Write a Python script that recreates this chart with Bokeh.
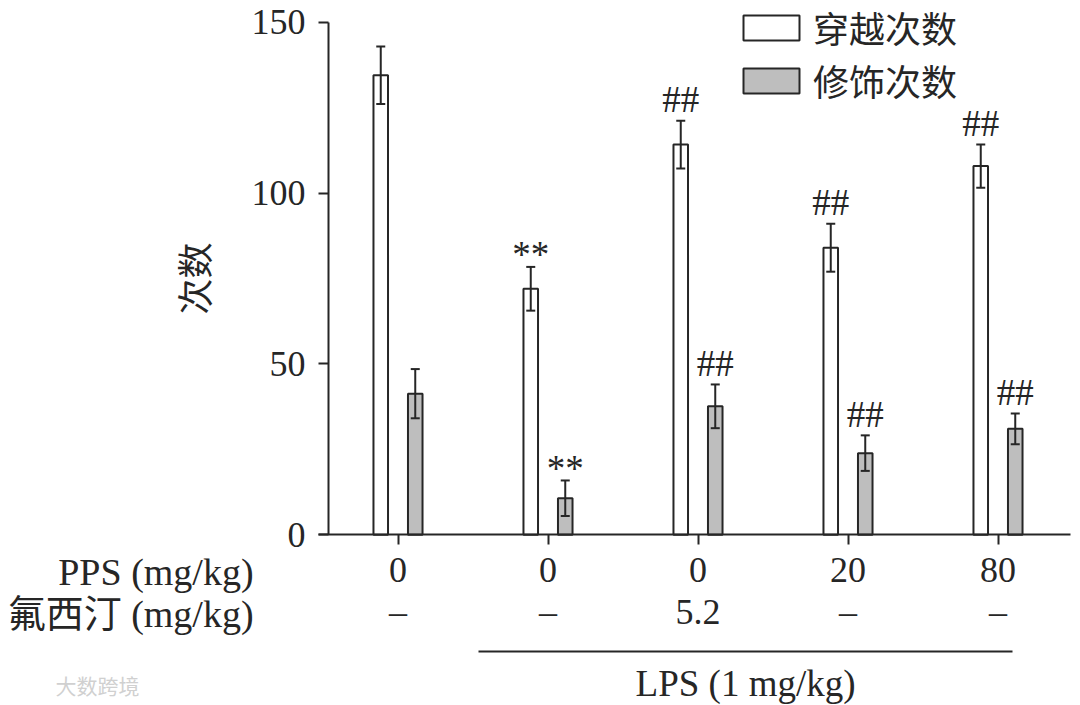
import math
from bokeh.plotting import figure
from bokeh.models import (Range1d, LinearAxis, FixedTicker, Whisker, ColumnDataSource,
                          Legend, LegendItem, Label, TeeHead)
from bokeh.core.properties import value
from bokeh.embed import file_html
from bokeh.resources import INLINE

# ---------------- data ----------------
pps_labels = ["0", "0", "0", "20", "80"]
fluox_labels = ["\u2013", "\u2013", "5.2", "\u2013", "\u2013"]
series_names = ["穿越次数", "修饰次数"]
cross = [134.5, 72.0, 114.2, 84.0, 107.9]
cross_err = [8.4, 6.4, 7.0, 7.0, 6.3]
groom = [41.3, 10.7, 37.6, 23.9, 31.0]
groom_err = [7.2, 5.2, 6.4, 5.2, 4.5]
cross_sig = ["", "**", "##", "##", "##"]
groom_sig = ["", "**", "##", "##", "##"]
yticks = [0, 50, 100, 150]

SERIF = "Liberation Serif"
CJK = "Noto Sans CJK SC"
MIX = "Liberation Serif, Noto Sans CJK SC"
INK = "#262626"
GREY = "#bebebe"

idx = list(range(len(pps_labels)))
off = 0.115
bw = 0.097

p = figure(width=1080, height=705, output_backend="svg", toolbar_location=None,
           x_range=Range1d(-2.65, 4.55), y_range=Range1d(-49.96, 156.37),
           min_border=0)
p.outline_line_color = None
p.xgrid.visible = False
p.ygrid.visible = False
p.background_fill_color = "white"

cx = [i - off for i in idx]
gx = [i + off for i in idx]
src_c = ColumnDataSource(dict(x=cx, top=cross, up=[v + e for v, e in zip(cross, cross_err)],
                              lo=[v - e for v, e in zip(cross, cross_err)]))
src_g = ColumnDataSource(dict(x=gx, top=groom, up=[v + e for v, e in zip(groom, groom_err)],
                              lo=[v - e for v, e in zip(groom, groom_err)]))

r1 = p.vbar(x="x", top="top", width=bw, source=src_c, fill_color="white",
            line_color=INK, line_width=2)
r2 = p.vbar(x="x", top="top", width=bw, source=src_g, fill_color=GREY,
            line_color=INK, line_width=2)

for s in (src_c, src_g):
    w = Whisker(source=s, base="x", upper="up", lower="lo", line_color=INK, line_width=2,
                upper_head=TeeHead(size=9, line_color=INK, line_width=2),
                lower_head=TeeHead(size=9, line_color=INK, line_width=2),
                level="overlay")
    p.add_layout(w)

# significance marks
for xs, ups, sigs in ((cx, src_c.data["up"], cross_sig), (gx, src_g.data["up"], groom_sig)):
    hx = [x for x, s in zip(xs, sigs) if s == "##"]
    hy = [u for u, s in zip(ups, sigs) if s == "##"]
    ax = [x for x, s in zip(xs, sigs) if s == "**"]
    ay = [u for u, s in zip(ups, sigs) if s == "**"]
    p.text(x=hx, y=hy, text=["##"] * len(hx), text_align="center", text_baseline="middle",
           y_offset=-21, text_font=value(SERIF), text_font_size="37px", text_color=INK)
    p.text(x=ax, y=ay, text=["**"] * len(ax), text_align="center", text_baseline="middle",
           y_offset=-12, text_font=value(SERIF), text_font_size="37px", text_color=INK)

# y axis
ya = p.yaxis[0]
ya.fixed_location = -0.4633
ya.ticker = FixedTicker(ticks=yticks)
ya.bounds = (0, 150)
ya.axis_line_width = 2
ya.axis_line_color = INK
ya.major_tick_line_width = 2
ya.major_tick_line_color = INK
ya.major_tick_out = 10
ya.major_tick_in = 0
ya.minor_tick_line_color = None
ya.major_label_text_font = SERIF
ya.major_label_text_font_size = "36px"
ya.major_label_text_color = INK
ya.major_label_standoff = 13
ya.axis_label = "次数"
ya.axis_label_text_font = CJK
ya.axis_label_text_font_size = "36px"
ya.axis_label_text_font_style = "normal"
ya.axis_label_text_color = INK
ya.axis_label_standoff = 30

# x axis (PPS row)
xa = p.xaxis[0]
xa.fixed_location = 0
xa.ticker = FixedTicker(ticks=idx)
xa.major_label_overrides = {i: t for i, t in zip(idx, pps_labels)}
xa.bounds = (-0.53, 4.483)
xa.axis_line_width = 2
xa.axis_line_color = INK
xa.major_tick_line_width = 2
xa.major_tick_line_color = INK
xa.major_tick_out = 10
xa.major_tick_in = 0
xa.minor_tick_line_color = None
xa.major_label_text_font = SERIF
xa.major_label_text_font_size = "36px"
xa.major_label_text_color = INK
xa.major_label_standoff = 13

# fluoxetine row
p.text(x=idx, y=[-22.7] * len(idx), text=fluox_labels, text_align="center",
       text_baseline="middle", text_font=value(SERIF), text_font_size="36px",
       text_color=INK)

# LPS bracket
xa3 = LinearAxis(ticker=FixedTicker(ticks=[]), bounds=(0.537, 4.097), fixed_location=-34.15)
xa3.axis_line_width = 2
xa3.axis_line_color = INK
xa3.major_tick_line_color = None
xa3.minor_tick_line_color = None
xa3.major_label_text_font_size = "0px"
p.add_layout(xa3, "below")
p.add_layout(Label(x=2.317, y=-43.5, text="LPS (1 mg/kg)", text_align="center",
                   text_baseline="middle", text_font=SERIF, text_font_size="37px",
                   text_color=INK))

# row titles
p.add_layout(Label(x=-0.963, y=-11.0, text="PPS (mg/kg)", text_align="right",
                   text_baseline="middle", text_font=SERIF, text_font_size="38px",
                   text_color=INK))
p.add_layout(Label(x=-0.963, y=-23.3, text="氟西汀 (mg/kg)", text_align="right",
                   text_baseline="middle", text_font=MIX, text_font_size="38px",
                   text_color=INK))
# watermark
p.add_layout(Label(x=-2.283, y=-44.1, text="大数跨境", text_align="left",
                   text_baseline="middle", text_font=CJK, text_font_size="21px",
                   text_color="#d0d0d0"))

legend = Legend(items=[LegendItem(label=series_names[0], renderers=[r1]),
                       LegendItem(label=series_names[1], renderers=[r2])],
                location=(736, 599), orientation="vertical")
legend.glyph_width = 70
legend.glyph_height = 31
legend.label_standoff = 7
legend.padding = 0
legend.margin = 0
legend.spacing = 1
legend.border_line_color = None
legend.background_fill_alpha = 0
legend.label_text_font = CJK
legend.label_text_font_size = "36px"
legend.label_text_color = INK
p.add_layout(legend, "center")

open("out.html", "w").write(file_html(p, INLINE))
